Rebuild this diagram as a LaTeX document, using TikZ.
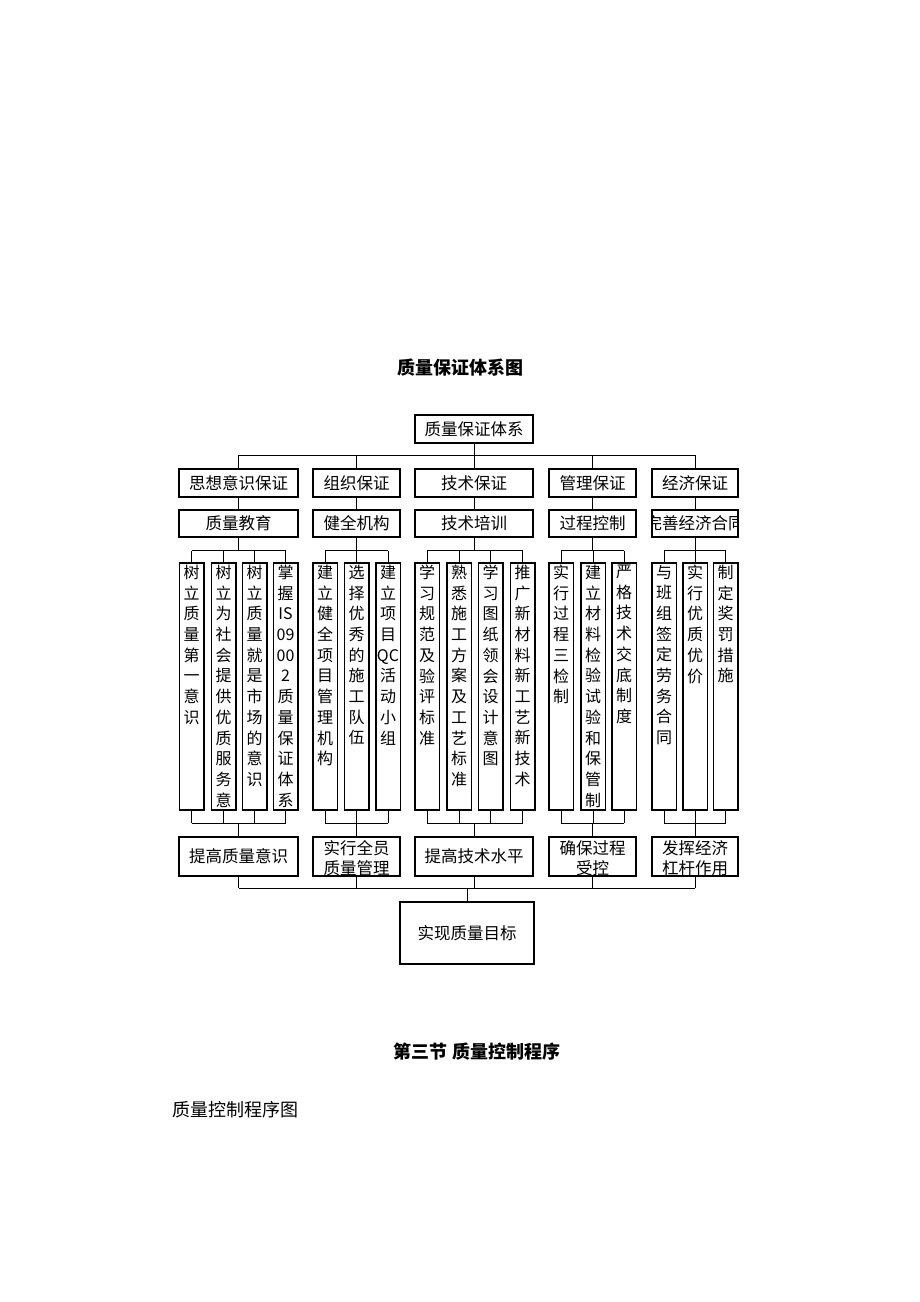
\documentclass[tikz,border=0pt]{standalone}
\usepackage{fontspec}
\newfontfamily\cjk{Noto Sans CJK SC}
\newcommand\mycol[3]{%
  \node[colbox] (#1) at (#2,686.5) {};
  \node[vt] at ([yshift=-2.5pt]#1.north) {#3};}
\begin{document}
\begin{tikzpicture}[x=1pt,y=-1pt,
  bx/.style={draw, line width=1.5pt, inner sep=0pt, font=\cjk\fontsize{16.5}{20}\selectfont},
  colbox/.style={draw, line width=1.5pt, inner sep=0pt, minimum width=24.5pt, minimum height=247pt},
  vt/.style={inner sep=0pt, align=center, anchor=north, font=\cjk\fontsize{16}{20.7}\selectfont},
  txt/.style={inner sep=0pt, align=center, font=\cjk\fontsize{16.5}{20}\selectfont},
  ln/.style={line width=1pt}]
\useasboundingbox (0,0) rectangle (920,1302);

% titles
\node[inner sep=0pt, font=\cjk\bfseries\fontsize{18}{20}\selectfont] (title) at (460,368) {质量保证体系图};
\node[inner sep=0pt, font=\cjk\bfseries\fontsize{18}{20}\selectfont] (sec) at (477,1052) {第三节 质量控制程序};
\node[inner sep=0pt, anchor=west, font=\cjk\fontsize{18}{20}\selectfont] (sub) at (172,1110) {质量控制程序图};

% top
\node[bx, minimum width=118pt, minimum height=28pt] (top) at (474,429) {质量保证体系};

% level 2
\node[bx, minimum width=119pt, minimum height=28pt] (a2) at (238.5,483) {思想意识保证};
\node[bx, minimum width=87pt, minimum height=28pt] (b2) at (356.5,483) {组织保证};
\node[bx, minimum width=118pt, minimum height=28pt] (c2) at (474,483) {技术保证};
\node[bx, minimum width=87pt, minimum height=28pt] (d2) at (592.5,483) {管理保证};
\node[bx, minimum width=86pt, minimum height=28pt] (e2) at (695,483) {经济保证};

% level 3
\node[bx, minimum width=119pt, minimum height=27pt] (a3) at (238.5,523.5) {质量教育};
\node[bx, minimum width=87pt, minimum height=27pt] (b3) at (356.5,523.5) {健全机构};
\node[bx, minimum width=118pt, minimum height=27pt] (c3) at (474,523.5) {技术培训};
\node[bx, minimum width=87pt, minimum height=27pt] (d3) at (592.5,523.5) {过程控制};
\node[bx, minimum width=86pt, minimum height=27pt] (e3) at (695,523.5) {};
\begin{scope}
  \clip (e3.south west) rectangle (e3.north east);
  \node[txt] at (e3.center) {完善经济合同};
\end{scope}

% columns
\mycol{a1}{191.5}{树\\立\\质\\量\\第\\一\\意\\识}
\mycol{a2c}{223.5}{树\\立\\为\\社\\会\\提\\供\\优\\质\\服\\务\\意}
\mycol{a3c}{254.5}{树\\立\\质\\量\\就\\是\\市\\场\\的\\意\\识}
\mycol{a4}{285.5}{掌\\握\\IS\\09\\00\\2\\质\\量\\保\\证\\体\\系}
\mycol{b1}{325}{建\\立\\健\\全\\项\\目\\管\\理\\机\\构}
\mycol{b2c}{356.5}{选\\择\\优\\秀\\的\\施\\工\\队\\伍}
\mycol{b3c}{388}{建\\立\\项\\目\\QC\\活\\动\\小\\组}
\mycol{c1}{427}{学\\习\\规\\范\\及\\验\\评\\标\\准}
\mycol{c2c}{459}{熟\\悉\\施\\工\\方\\案\\及\\工\\艺\\标\\准}
\mycol{c3c}{490.5}{学\\习\\图\\纸\\领\\会\\设\\计\\意\\图}
\mycol{c4}{522.5}{推\\广\\新\\材\\料\\新\\工\\艺\\新\\技\\术}
\mycol{d1}{561}{实\\行\\过\\程\\三\\检\\制}
\mycol{d2c}{593}{建\\立\\材\\料\\检\\验\\试\\验\\和\\保\\管\\制}
\mycol{d3c}{624}{严\\格\\技\\术\\交\\底\\制\\度}
\mycol{e1}{664}{与\\班\\组\\签\\定\\劳\\务\\合\\同}
\mycol{e2c}{695}{实\\行\\优\\质\\优\\价}
\mycol{e3c}{725.5}{制\\定\\奖\\罚\\措\\施}

% level 5
\node[bx, minimum width=119pt, minimum height=39pt] (a5) at (238.5,856.5) {提高质量意识};
\node[bx, minimum width=87pt, minimum height=39pt] (b5) at (356.5,856.5) {};
\node[bx, minimum width=118pt, minimum height=39pt] (c5) at (474,856.5) {提高技术水平};
\node[bx, minimum width=87pt, minimum height=39pt] (d5) at (592.5,856.5) {};
\node[bx, minimum width=86pt, minimum height=39pt] (e5) at (695,856.5) {};
\begin{scope}
  \clip (b5.south west) rectangle (b5.north east);
  \node[txt] at ([yshift=-1.5pt]b5.center) {实行全员\\质量管理};
\end{scope}
\begin{scope}
  \clip (d5.south west) rectangle (d5.north east);
  \node[txt] at ([yshift=-1.5pt]d5.center) {确保过程\\受控};
\end{scope}
\begin{scope}
  \clip (e5.south west) rectangle (e5.north east);
  \node[txt] at ([yshift=-1.5pt]e5.center) {发挥经济\\杠杆作用};
\end{scope}

% final
\node[bx, minimum width=134pt, minimum height=62pt] (fin) at (467,933) {实现质量目标};

% connectors
\coordinate (t1) at (0,455);
\coordinate (t2) at (0,550.5);
\coordinate (t3) at (0,823);
\coordinate (t4) at (0,888);

\draw[ln] (top.south) -- (top.south|-t1);
\draw[ln] (a2.north|-t1) -- (e2.north|-t1);
\foreach \n in {a2,b2,c2,d2,e2} \draw[ln] (\n.north) -- (\n.north|-t1);
\draw[ln] (a2) -- (a3);
\draw[ln] (b2) -- (b3);
\draw[ln] (c2) -- (c3);
\draw[ln] (d2) -- (d3);
\draw[ln] (e2) -- (e3);

\foreach \n in {a3,b3,c3,d3,e3} \draw[ln] (\n.south) -- (\n.south|-t2);
\foreach \n in {a5,b5,c5,d5,e5} \draw[ln] (\n.north) -- (\n.north|-t3);
\foreach \n in {a1,a2c,a3c,a4,b1,b2c,b3c,c1,c2c,c3c,c4,d1,d2c,d3c,e1,e2c,e3c} {
  \draw[ln] (\n.north) -- (\n.north|-t2);
  \draw[ln] (\n.south) -- (\n.south|-t3);
}
\foreach \p/\q in {a1/a4,b1/b3c,c1/c4,d1/d3c,e1/e3c} {
  \draw[ln] (\p.north|-t2) -- (\q.north|-t2);
  \draw[ln] (\p.south|-t3) -- (\q.south|-t3);
}

\foreach \n in {a5,b5,c5,d5,e5} \draw[ln] (\n.south) -- (\n.south|-t4);
\draw[ln] (a5.south|-t4) -- (e5.south|-t4);
\draw[ln] (fin.north) -- (fin.north|-t4);
\end{tikzpicture}
\end{document}
